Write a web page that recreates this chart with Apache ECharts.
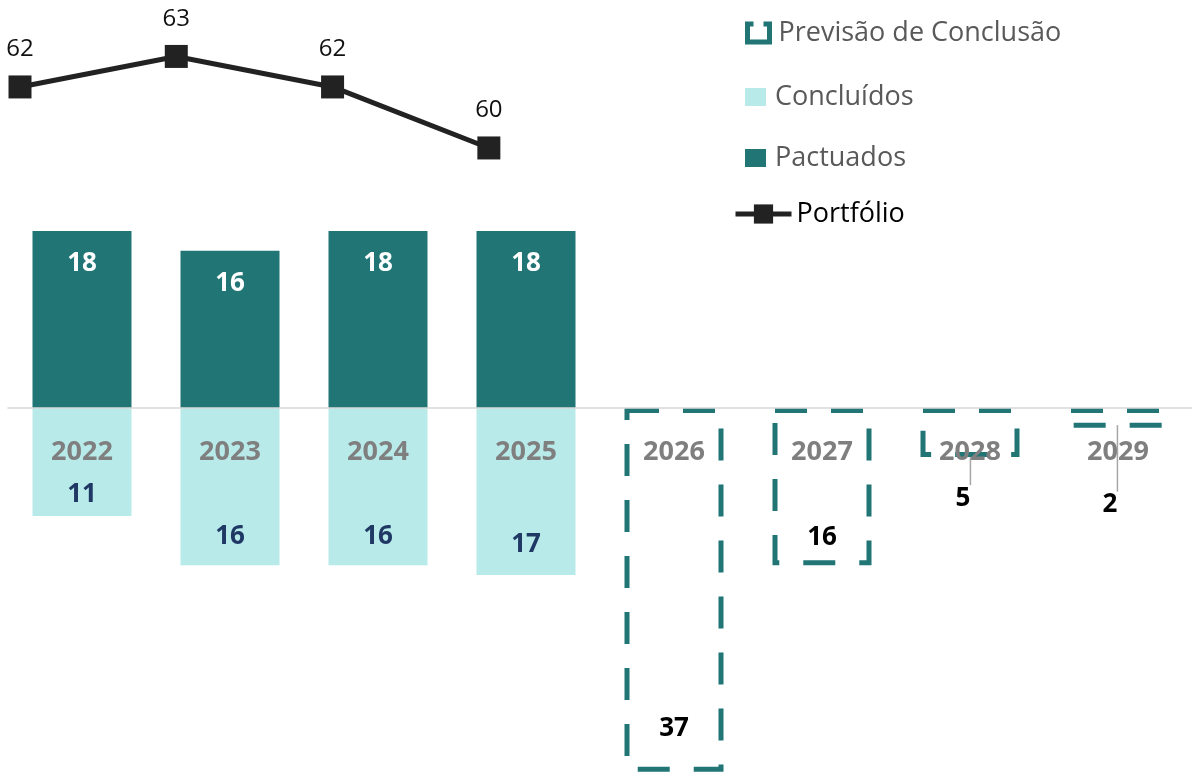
<!DOCTYPE html>
<html><head><meta charset="utf-8">
<script src="https://cdn.jsdelivr.net/npm/echarts@6/dist/echarts.min.js"></script>
<style>html,body{margin:0;padding:0;background:#fff}#c{width:1192px;height:777px}</style>
</head><body><div id="c"></div>
<script>
const years = ['2022','2023','2024','2025','2026','2027','2028','2029'];
const pactuados = [18,16,18,18,null,null,null,null];
const concluidos = [11,16,16,17,null,null,null,null];
const previsao = [null,null,null,null,37,16,5,2];
const portfolio = [62,63,62,60,null,null,null,null];

const TEAL = '#217575', LIGHT = '#b8eaea', FONT = 'Open Sans';

// per-bar label placement (layout only)
const conclDist = [9, 16, 16, 17];
const prevLabelCfg = [null, null, null, null,
  {position:'insideBottom', distance:30},
  {position:'insideBottom', distance:15},
  {position:'bottom', distance:28, offset:[-7,0]},
  {position:'bottom', distance:64, offset:[-8,0]}];

const conclData = concluidos.map((v,i) => v == null ? null : {
  value: -v, label: {distance: conclDist[i]}
});
const prevData = previsao.map((v,i) => v == null ? null : {
  value: -v, label: prevLabelCfg[i]
});

const chart = echarts.init(document.getElementById('c'));
const legendText = {fontFamily: FONT, fontSize: 27, color: '#595959', lineHeight: 30, padding:[0,0,0,4]};
chart.setOption({
  animation: false,
  backgroundColor: '#fff',
  grid: [
    {left: 8, right: 0, top: 0, bottom: 0, outerBoundsMode: 'none', containLabel: false},
    {left: 20, width: 1094, top: 0, height: 777, outerBoundsMode: 'none', containLabel: false},
    {left: 8, right: 0, top: 0, height: 408, outerBoundsMode: 'none', containLabel: false}
  ],
  xAxis: [
    {type: 'category', data: years, gridIndex: 0, show: false},
    {type: 'category', data: years, gridIndex: 1, boundaryGap: false, show: false},
    {type: 'category', data: years, gridIndex: 2, position: 'bottom', z: 10,
     axisLine: {onZero: false, lineStyle: {color: '#d9d9d9', width: 1.5}},
     axisTick: {show: false},
     axisLabel: {margin: 31, fontFamily: FONT, fontSize: 27, fontWeight: 'bold', color: '#7f7f7f'}}
  ],
  yAxis: [
    {type: 'value', gridIndex: 0, min: -37.54, max: 41.5, show: false, splitLine: {show: false}},
    {type: 'value', gridIndex: 1, min: 39.38, max: 64.85, show: false, splitLine: {show: false}},
    {type: 'value', gridIndex: 2, min: 0, max: 1, show: false, splitLine: {show: false}}
  ],
  legend: [
    {data: ['Previsão de Conclusão'], left: 745, top: 18, padding: 0, itemWidth: 22, itemHeight: 18, icon: 'rect',
     itemStyle: {color: 'rgba(0,0,0,0)', borderColor: TEAL, borderWidth: 5, borderType: [6, 10, 64]},
     textStyle: legendText},
    {data: ['Concluídos'], left: 745, top: 82, padding: 0, itemWidth: 21, itemHeight: 18, icon: 'rect', textStyle: legendText},
    {data: ['Pactuados'], left: 745, top: 143, padding: 0, itemWidth: 21, itemHeight: 18, icon: 'rect', textStyle: legendText},
    {data: ['Portfólio'], left: 733, top: 199, padding: 0, itemWidth: 56, itemHeight: 24,
     lineStyle: {width: 5, color: '#222'},
     textStyle: Object.assign({}, legendText, {color: '#000', padding:[0,0,0,0]})}
  ],
  series: [
    {name: 'Pactuados', type: 'bar', stack: 's', barWidth: 99, xAxisIndex: 0, yAxisIndex: 0,
     data: pactuados, itemStyle: {color: TEAL},
     label: {show: true, position: 'insideTop', distance: 20, fontFamily: FONT, fontSize: 26,
             fontWeight: 'bold', color: '#fff'}},
    {name: 'Concluídos', type: 'bar', stack: 's', barWidth: 99, xAxisIndex: 0, yAxisIndex: 0,
     data: conclData, itemStyle: {color: LIGHT},
     label: {show: true, position: 'insideBottom', fontFamily: FONT, fontSize: 26, fontWeight: 'bold',
             color: '#1f3864', formatter: p => Math.abs(p.value)}},
    {name: 'Previsão de Conclusão', type: 'bar', stack: 's', barWidth: 99, xAxisIndex: 0, yAxisIndex: 0,
     data: prevData,
     itemStyle: {color: 'rgba(0,0,0,0)', borderColor: TEAL, borderWidth: 5, borderType: [32, 24]},
     label: {show: true, position: 'insideBottom', fontFamily: FONT, fontSize: 26, fontWeight: 'bold',
             color: '#000', formatter: p => Math.abs(p.value)},
     labelLine: {show: true, lineStyle: {color: '#a6a6a6', width: 1.5}}},
    {name: 'Portfólio', type: 'line', xAxisIndex: 1, yAxisIndex: 1, data: portfolio,
     symbol: 'rect', symbolSize: 23, lineStyle: {color: '#222', width: 5},
     itemStyle: {color: '#222'}, z: 5,
     label: {show: true, position: 'top', distance: 14, fontFamily: FONT, fontSize: 24, color: '#111'}}
  ]
});
</script></body></html>
